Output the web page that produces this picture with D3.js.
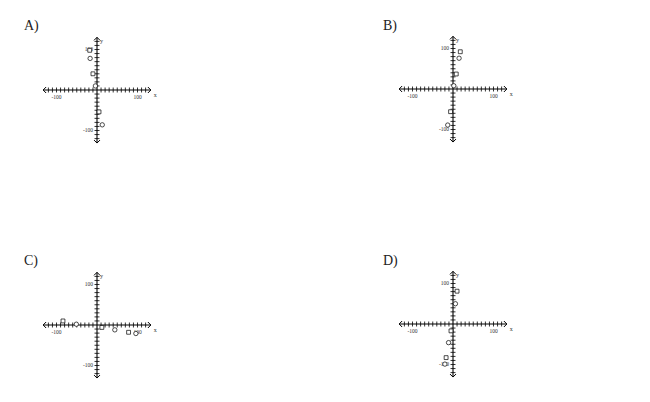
<!DOCTYPE html>
<html>
<head>
<meta charset="utf-8">
<script src="https://cdn.jsdelivr.net/npm/d3@7"></script>
<style>
  body { margin: 0; background: white; }
  .lbl { font-family: "Liberation Serif", "DejaVu Serif", serif; }
</style>
</head>
<body>
<svg id="chart" width="650" height="402"></svg>
<script>
// answer choices and their plotted points
const panelNames = ["A)", "B)", "C)", "D)"];
const pointsA = [[-18, 98], [-17, 78], [-10, 40], [-4, 10], [5, -54], [13, -86]];
const pointsB = [[18, 92], [15, 76], [8, 37], [2, 8], [-6, -56], [-13, -89]];
const pointsC = [[-84, 10], [-51, 2], [12, -6], [44, -12], [78, -18], [96, -21]];
const pointsD = [[10, 81], [6, 50], [-5, -17], [-11, -46], [-17, -83], [-20, -99]];
const tickValues = [-120, -110, -100, -90, -80, -70, -60, -50, -40, -30, -20, -10, 10, 20, 30, 40, 50, 60, 70, 80, 90, 100, 110, 120];
const tickLabels = [-100, 100];
const markerShapes = [d3.symbolSquare, d3.symbolCircle, d3.symbolSquare, d3.symbolCircle, d3.symbolSquare, d3.symbolCircle];

const svg = d3.select("#chart");

//draws one answer panel: label, axes with ticks and arrows, points
function drawPanel(name, pts, lx, ly, ox, oy){
  svg.append("text").attr("class", "lbl").attr("x", lx).attr("y", ly)
    .style("font-size", "14px").style("fill", "#222").text(name);

  const x = d3.scaleLinear().domain([-100, 100]).range([ox - 40.5, ox + 40.5]);
  const y = d3.scaleLinear().domain([-100, 100]).range([oy + 40.5, oy - 40.5]);
  const g = svg.append("g");

  // axis lines
  g.append("line").attr("x1", x(-133)).attr("x2", x(133)).attr("y1", y(0)).attr("y2", y(0))
    .attr("stroke", "black").attr("stroke-width", 1.1);
  g.append("line").attr("x1", x(0)).attr("x2", x(0)).attr("y1", y(130)).attr("y2", y(-131))
    .attr("stroke", "black").attr("stroke-width", 1.1);

  // arrow heads
  const ah = 3;
  g.append("path").attr("d", `M${x(-133)+ah},${y(0)-ah} L${x(-133)},${y(0)} L${x(-133)+ah},${y(0)+ah}`)
    .attr("fill", "none").attr("stroke", "black");
  g.append("path").attr("d", `M${x(133)-ah},${y(0)-ah} L${x(133)},${y(0)} L${x(133)-ah},${y(0)+ah}`)
    .attr("fill", "none").attr("stroke", "black");
  g.append("path").attr("d", `M${x(0)-ah},${y(130)+ah} L${x(0)},${y(130)} L${x(0)+ah},${y(130)+ah}`)
    .attr("fill", "none").attr("stroke", "black");
  g.append("path").attr("d", `M${x(0)-ah},${y(-131)-ah} L${x(0)},${y(-131)} L${x(0)+ah},${y(-131)-ah}`)
    .attr("fill", "none").attr("stroke", "black");

  // tick marks crossing the axes
  tickValues.forEach(function(t){
    g.append("line").attr("x1", x(t)).attr("x2", x(t)).attr("y1", y(0) - 2.5).attr("y2", y(0) + 2.5)
      .attr("stroke", "black").attr("stroke-width", 0.8);
    g.append("line").attr("x1", x(0) - 2.5).attr("x2", x(0) + 2.5).attr("y1", y(t)).attr("y2", y(t))
      .attr("stroke", "black").attr("stroke-width", 0.8);
  });

  // tick labels
  tickLabels.forEach(function(t){
    g.append("text").attr("class", "lbl").attr("x", x(t)).attr("y", y(0) + 8.5)
      .attr("text-anchor", "middle").style("font-size", "5.5px").style("fill", "#333").text(t);
    g.append("text").attr("class", "lbl").attr("x", x(0) - 4).attr("y", y(t) + 1.8)
      .attr("text-anchor", "end").style("font-size", "5.5px").style("fill", "#333").text(t);
  });
  g.append("text").attr("class", "lbl").attr("x", x(133) + 3).attr("y", y(0) + 7)
    .style("font-size", "6px").style("fill", "#333").text("x");
  g.append("text").attr("class", "lbl").attr("x", x(0) + 3).attr("y", y(130) + 6)
    .style("font-size", "6px").style("fill", "#333").text("y");

  // plotted points
  pts.forEach(function(p, i){
    g.append("path")
      .attr("d", d3.symbol().type(markerShapes[i]).size(15)())
      .attr("transform", "translate(" + x(p[0]) + "," + y(p[1]) + ")")
      .attr("fill", "white").attr("stroke", "black").attr("stroke-width", 0.7);
  });
}

drawPanel(panelNames[0], pointsA, 24, 30, 97, 90);
drawPanel(panelNames[1], pointsB, 383, 30, 453, 89);
drawPanel(panelNames[2], pointsC, 24, 265, 97, 325);
drawPanel(panelNames[3], pointsD, 383, 265, 453, 324);
</script>
</body>
</html>
